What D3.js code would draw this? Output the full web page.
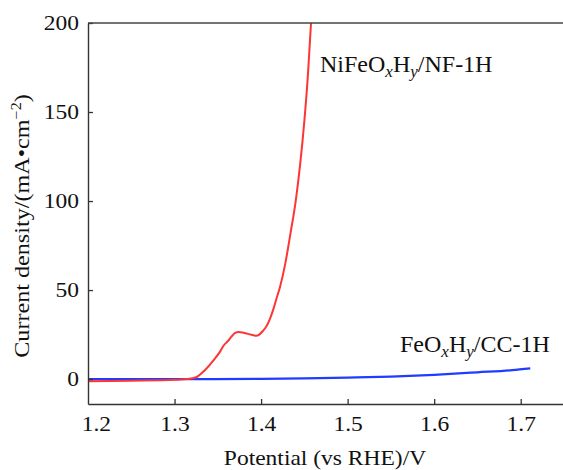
<!DOCTYPE html>
<html>
<head>
<meta charset="utf-8">
<script src="https://cdn.jsdelivr.net/npm/d3@7"></script>
<style>
body{margin:0;background:#fff;}
svg{display:block;}
svg text{font-family:"Liberation Serif","Times New Roman",serif;fill:#111;}
</style>
</head>
<body>
<svg id="c" width="563" height="470"></svg>
<script>
const xTicks = [1.2, 1.3, 1.4, 1.5, 1.6, 1.7];
const yTicks = [0, 50, 100, 150, 200];
const xDomain = [1.2, 1.75];
const yDomain = [-14, 200];

const niV = [1.20,1.25,1.30,1.315,1.325,1.335,1.345,1.352,1.357,1.361,1.366,1.370,1.374,1.380,1.388,1.394,1.398,1.402,1.406,1.410,1.414,1.418,1.422,1.428,1.434,1.440,1.445,1.450,1.454,1.4577];
const niJ = [-1.2,-0.9,-0.4,0,1,5,10.5,15,19,21,24,26,26.5,26,25,24.3,25,27,29.5,33.5,39,45.5,52,65,82,100,120,145,170,200];

const feV = [1.20,1.30,1.40,1.45,1.50,1.55,1.60,1.65,1.69,1.711];
const feJ = [0,0,0.1,0.4,0.8,1.4,2.4,3.8,5,6];

const FONT = '"Liberation Serif","Times New Roman",serif';
const SX = 1.12;
const svg = d3.select("#c");
const x = d3.scaleLinear().domain(xDomain).range([88, 564]);
const y = d3.scaleLinear().domain(yDomain).range([404, 23]);

svg.append("clipPath").attr("id","clip").append("rect")
  .attr("x",88).attr("y",23).attr("width",476).attr("height",381);

const line = d3.line().x(d=>x(d[0])).y(d=>y(d[1])).curve(d3.curveMonotoneX);

svg.append("path").datum(feV.map((v,i)=>[v,feJ[i]]))
  .attr("d",line).attr("fill","none").attr("stroke","#1f3cff").attr("stroke-width",2.2)
  .attr("clip-path","url(#clip)");
svg.append("path").datum(niV.map((v,i)=>[v,niJ[i]]))
  .attr("d",line).attr("fill","none").attr("stroke","#ff3434").attr("stroke-width",2)
  .attr("clip-path","url(#clip)");

const xAxis = d3.axisBottom(x).tickValues(xTicks).tickSizeInner(-5).tickSizeOuter(0).tickPadding(12).tickFormat(d3.format(".1f"));
const gx = svg.append("g").attr("transform","translate(0,404)").call(xAxis).attr("font-family",FONT);
gx.selectAll("text").attr("font-size",21).attr("fill","#111").attr("transform",`scale(${SX},1)`);
gx.selectAll(".tick").filter(d=>d===1.2).select("text").attr("dx",7);
gx.selectAll(".tick").filter(d=>d===1.2).select("line").remove();

const yAxis = d3.axisLeft(y).tickValues(yTicks).tickSizeInner(-5).tickSizeOuter(0).tickPadding(8);
const gy = svg.append("g").attr("transform","translate(88,0)").call(yAxis).attr("font-family",FONT);
gy.selectAll("text").attr("font-size",21).attr("fill","#111").attr("transform",`scale(${SX},1)`);

svg.selectAll(".domain").attr("stroke","#333").attr("stroke-width",1.4);
svg.selectAll(".tick line").attr("stroke","#333").attr("stroke-width",1.3);

svg.append("line").attr("x1",88).attr("x2",563).attr("y1",23).attr("y2",23)
  .attr("stroke","#444").attr("stroke-width",1.4);

svg.append("text").attr("transform",`translate(325,465) scale(${SX},1)`).attr("text-anchor","middle")
  .attr("font-size",21).text("Potential (vs RHE)/V");

const yt = svg.append("text").attr("transform",`translate(29,226) rotate(-90) scale(1.15,1)`)
  .attr("text-anchor","middle").attr("font-size",21);
yt.append("tspan").text("Current density/(mA\u2022cm");
yt.append("tspan").attr("font-size",14).attr("dy",-8).text("\u22122");
yt.append("tspan").attr("dy",8).text(")");

function label(xp, yp, parts){
  const t = svg.append("text").attr("x",xp).attr("y",yp).attr("font-size",24);
  parts.forEach(p=>{
    const s = t.append("tspan").text(p[0]);
    if(p[1]==="sub"){ s.attr("font-size",17).attr("font-style","italic").attr("dy",5); }
    else if(p[1]==="back"){ s.attr("dy",-5); }
  });
}
label(320, 72, [["NiFeO"],["x","sub"],["H","back"],["y","sub"],["/NF-1H","back"]]);
label(400, 352, [["FeO"],["x","sub"],["H","back"],["y","sub"],["/CC-1H","back"]]);
</script>
</body>
</html>
